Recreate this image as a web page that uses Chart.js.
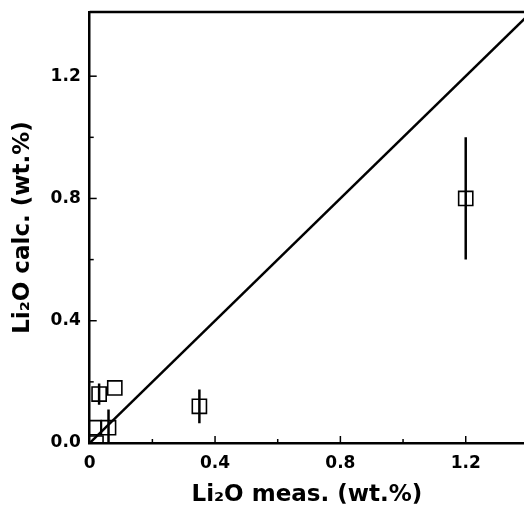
<!DOCTYPE html>
<html><head><meta charset="utf-8">
<script src="https://cdn.jsdelivr.net/npm/chart.js@4"></script>
<style>html,body{margin:0;padding:0;background:#fff;overflow:hidden}#wrap{width:524px;height:516px}</style>
</head><body><div id="wrap"><canvas id="c"></canvas></div>
<script>
const measured = [1.2, 0.35, 0.08, 0.03, 0.013, 0.06, 0.02];
const calculated = [0.8, 0.12, 0.18, 0.16, 0.05, 0.05, 0.0];
const errLow = [0.6, 0.065, null, 0.125, null, 0.0, null];
const errHigh = [1.0, 0.175, null, 0.195, null, 0.11, null];
const oneToOne = [0, 1.4];
const majorTicks = [0, 0.4, 0.8, 1.2];
const minorTicks = [0.2, 0.6, 1.0];

const points = measured.map((x, i) => ({x, y: calculated[i]}));
const errData = [];
measured.forEach((x, i) => {
  if (errLow[i] !== null) {
    errData.push({x, y: errLow[i]}, {x, y: errHigh[i]}, {x, y: null});
  }
});
const lineData = oneToOne.map(v => ({x: v, y: v}));

const inwardTicks = {
  id: 'inwardTicks',
  afterDraw(chart) {
    const {ctx, chartArea: a, scales: {x, y}} = chart;
    ctx.save();
    ctx.strokeStyle = '#000';
    ctx.lineWidth = 1.5;
    const draw = (vals, len) => {
      vals.forEach(v => {
        const px = x.getPixelForValue(v);
        ctx.beginPath(); ctx.moveTo(px, a.bottom); ctx.lineTo(px, a.bottom - len); ctx.stroke();
        const py = y.getPixelForValue(v);
        ctx.beginPath(); ctx.moveTo(a.left, py); ctx.lineTo(a.left + len, py); ctx.stroke();
      });
    };
    draw(majorTicks.slice(1), 7);
    draw(minorTicks, 4);
    ctx.lineWidth = 2.5;
    ctx.beginPath(); ctx.moveTo(a.left, a.top); ctx.lineTo(a.right, a.top); ctx.stroke();
    ctx.restore();
  }
};

const fontFamily = '"DejaVu Sans", "Liberation Sans", Arial, sans-serif';
new Chart(document.getElementById('c'), {
  type: 'scatter',
  data: {
    datasets: [
      {data: lineData, showLine: true, borderColor: '#000', borderWidth: 2.5, pointRadius: 0, order: 3},
      {data: errData, showLine: true, spanGaps: false, borderColor: '#000', borderWidth: 2.5, pointRadius: 0, order: 2},
      {data: points, pointStyle: 'rect', pointRadius: 10, pointBorderWidth: 1.6,
       pointBorderColor: '#000', pointBackgroundColor: 'rgba(0,0,0,0)', order: 1}
    ]
  },
  options: {
    responsive: true, maintainAspectRatio: false, animation: false,
    layout: {autoPadding: false, padding: {top: 12, right: 0, left: 5, bottom: 5}},
    plugins: {legend: {display: false}, tooltip: {enabled: false}},
    scales: {
      x: {
        type: 'linear', min: 0, max: 1.386,
        afterBuildTicks: s => { s.ticks = majorTicks.map(v => ({value: v})); },
        afterFit: s => { s.paddingLeft = 0; s.paddingRight = 0; },
        grid: {display: false, drawTicks: false},
        border: {display: true, color: '#000', width: 2.5},
        ticks: {color: '#000', padding: 12, font: {family: fontFamily, size: 17, weight: 'bold', lineHeight: 1}},
        title: {display: true, text: 'Li₂O meas. (wt.%)', color: '#000', padding: {top: 0, bottom: 4},
                font: {family: fontFamily, size: 23, weight: 'bold', lineHeight: 1}}
      },
      y: {
        type: 'linear', min: 0, max: 1.41,
        afterBuildTicks: s => { s.ticks = majorTicks.map(v => ({value: v})); },
        afterFit: s => { s.paddingTop = 0; s.paddingBottom = 0; },
        grid: {display: false, drawTicks: false},
        border: {display: true, color: '#000', width: 2.5},
        ticks: {color: '#000', padding: 9, font: {family: fontFamily, size: 17, weight: 'bold'},
                callback: v => v.toFixed(1)},
        title: {display: true, text: 'Li₂O calc. (wt.%)', color: '#000', padding: {top: 4, bottom: 5},
                font: {family: fontFamily, size: 23, weight: 'bold'}}
      }
    }
  },
  plugins: [inwardTicks]
});
</script></body></html>
